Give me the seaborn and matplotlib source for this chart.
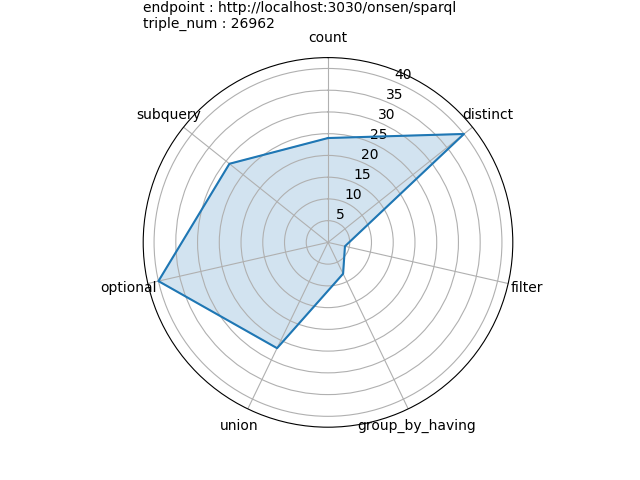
import numpy as np
import pandas as pd
import matplotlib
matplotlib.use("Agg")
import matplotlib.pyplot as plt
import seaborn as sns

categories = ["count", "distinct", "filter", "group_by_having", "union", "optional", "subquery"]
values = [24, 40, 4, 8, 27, 40, 29]

n = len(categories)
angles = np.linspace(0, 2 * np.pi, n, endpoint=False).tolist()
df = pd.DataFrame({"angle": angles + angles[:1], "value": values + values[:1], "order": range(n + 1)})

fig = plt.figure(figsize=(6.4, 4.8), dpi=100)
ax = fig.add_subplot(111, polar=True)
ax.set_theta_offset(np.pi / 2)
ax.set_theta_direction(-1)
sns.lineplot(data=df, x="angle", y="value", sort=False, ax=ax, color="#1f77b4", estimator=None)
ax.fill(df["angle"], df["value"], color="#1f77b4", alpha=0.2)
ax.set_xticks(angles)
ax.set_xticklabels(categories, fontsize=10)
ax.set_xlabel("")
ax.set_ylabel("")
ax.set_ylim(0, 42.5)
ax.set_yticks([5, 10, 15, 20, 25, 30, 35, 40])
ax.set_title("endpoint : http://localhost:3030/onsen/sparql\ntriple_num : 26962", loc="left", fontsize=10, pad=2)
fig.savefig("out.png")
